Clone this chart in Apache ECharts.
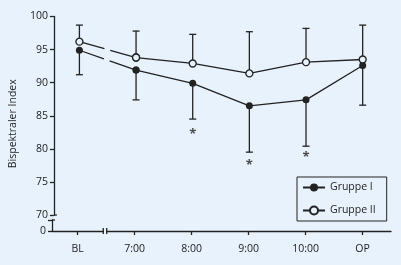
<!DOCTYPE html>
<html>
<head>
<meta charset="utf-8">
<script src="https://cdn.jsdelivr.net/npm/echarts@6/dist/echarts.min.js"></script>
<style>
  html, body { margin: 0; padding: 0; background: #e8f2fc; }
  #chart { width: 401px; height: 265px; }
</style>
</head>
<body>
<div id="chart"></div>
<script>
// Zeitpunkte
const categories = ['BL', '7:00', '8:00', '9:00', '10:00', 'OP'];
// Gruppe I: Mittelwert und untere Fehlerbalken
const gruppe1 = [94.9, 91.9, 89.9, 86.5, 87.4, 92.6];
const gruppe1Lower = [91.2, 87.4, 84.5, 79.5, 80.4, 86.6];
// Gruppe II: Mittelwert und obere Fehlerbalken
const gruppe2 = [96.2, 93.8, 92.9, 91.4, 93.1, 93.5];
const gruppe2Upper = [98.7, 97.8, 97.3, 97.7, 98.2, 98.7];
// signifikante Zeitpunkte (*)
const sigIndex = [2, 3, 4];
const sigValue = [82.6, 77.9, 79.2];
// x-Achse mit Bruch zwischen BL und 7:00
const xMin = -0.45, xMax = 5.5;
const xBreak = [0.45, 0.51];

const ink = '#222';
const bg = '#e8f2fc';
const font = 'Open Sans';
const xIdx = categories.map((c, i) => i);

const chart = echarts.init(document.getElementById('chart'));

function errorBar(params, api) {
  const p0 = api.coord([api.value(0), api.value(1)]);
  const p1 = api.coord([api.value(0), api.value(2)]);
  const w = 3.5;
  return {
    type: 'group',
    children: [
      { type: 'line', shape: { x1: p0[0], y1: p0[1], x2: p1[0], y2: p1[1] }, style: { stroke: ink, lineWidth: 1.3 } },
      { type: 'line', shape: { x1: p1[0] - w, y1: p1[1], x2: p1[0] + w, y2: p1[1] }, style: { stroke: ink, lineWidth: 1.3 } }
    ]
  };
}

const axisStyle = { color: ink, width: 1.3 };
const labelStyle = { fontFamily: font, fontSize: 10.5, color: ink };

const option = {
  backgroundColor: bg,
  animation: false,
  textStyle: { fontFamily: font, color: ink },
  grid: [
    { left: 52, right: 10, top: 16.5, bottom: 50 },   // 70..100
    { left: 52, right: 10, top: 220, bottom: 34 }     // unterhalb des Bruchs bis 0
  ],
  legend: {
    data: ['Gruppe I', 'Gruppe II'],
    orient: 'vertical',
    left: 297,
    top: 177,
    itemWidth: 22,
    itemHeight: 10,
    itemGap: 12,
    padding: [5, 11, 5, 5],
    borderColor: ink,
    borderWidth: 1,
    backgroundColor: bg,
    textStyle: Object.assign({ lineHeight: 10 }, labelStyle)
  },
  xAxis: [
    {
      gridIndex: 0, type: 'value', min: xMin, max: xMax, show: false
    },
    {
      gridIndex: 1, type: 'value', min: xMin, max: xMax,
      axisLine: { show: true, onZero: false, lineStyle: axisStyle },
      axisTick: { show: true, customValues: xIdx, length: 4, lineStyle: axisStyle },
      splitLine: { show: false },
      axisLabel: Object.assign({
        customValues: xIdx,
        formatter: v => categories[Math.round(v)],
        margin: 13
      }, labelStyle)
    }
  ],
  yAxis: [
    {
      gridIndex: 0, type: 'value', min: 70, max: 100, interval: 5,
      name: 'Bispektraler Index',
      nameLocation: 'middle',
      nameGap: 24,
      nameTextStyle: Object.assign({ padding: [0, 16, 0, 0] }, labelStyle),
      axisLine: { show: true, onZero: false, lineStyle: axisStyle },
      axisTick: { show: true, length: 4, lineStyle: axisStyle },
      splitLine: { show: false },
      axisLabel: Object.assign({ margin: 6 }, labelStyle)
    },
    {
      gridIndex: 1, type: 'value', min: 0, max: 1, interval: 1,
      axisLine: { show: true, onZero: false, lineStyle: axisStyle },
      axisTick: { show: true, length: 4, lineStyle: axisStyle },
      splitLine: { show: false },
      axisLabel: Object.assign({ margin: 6, formatter: v => (v === 0 ? '0' : '') }, labelStyle)
    }
  ],
  series: [
    {
      type: 'custom', name: 'err1', renderItem: errorBar, z: 1,
      data: xIdx.map(i => [i, gruppe1[i], gruppe1Lower[i]])
    },
    {
      type: 'custom', name: 'err2', renderItem: errorBar, z: 1,
      data: xIdx.map(i => [i, gruppe2[i], gruppe2Upper[i]])
    },
    {
      name: 'Gruppe I gap', type: 'line', z: 2,
      data: [[0, gruppe1[0]], [1, gruppe1[1]]],
      symbol: 'circle', symbolSize: 7,
      itemStyle: { color: ink },
      lineStyle: { color: ink, width: 1.3, type: [26, 6, 100] }
    },
    {
      name: 'Gruppe II gap', type: 'line', z: 2,
      data: [[0, gruppe2[0]], [1, gruppe2[1]]],
      symbol: 'circle', symbolSize: 7,
      itemStyle: { color: bg, borderColor: ink, borderWidth: 1.3 },
      lineStyle: { color: ink, width: 1.3, type: [26, 6, 100] }
    },
    {
      name: 'Gruppe I', type: 'line', z: 3,
      data: xIdx.slice(1).map(i => [i, gruppe1[i]]),
      symbol: 'circle', symbolSize: 7,
      itemStyle: { color: ink },
      lineStyle: { color: ink, width: 1.3 }
    },
    {
      name: 'Gruppe II', type: 'line', z: 3,
      data: xIdx.slice(1).map(i => [i, gruppe2[i]]),
      symbol: 'circle', symbolSize: 7,
      itemStyle: { color: bg, borderColor: ink, borderWidth: 1.3 },
      lineStyle: { color: ink, width: 1.3 }
    },
    {
      name: 'sig', type: 'scatter', z: 3,
      data: sigIndex.map((i, k) => [i, sigValue[k]]),
      symbolSize: 1,
      itemStyle: { color: 'rgba(0,0,0,0)' },
      label: Object.assign({
        show: true, position: 'inside', formatter: '*',
        fontSize: 13, fontWeight: 'bold', offset: [0, 3]
      }, { fontFamily: font, color: ink })
    }
  ]
};

chart.setOption(option);

// Endstriche an den Bruchstellen, Lücke in der x-Achse
const px = (g, x, y) => {
  const p = chart.convertToPixel({ gridIndex: g }, [x, y]);
  return [p[0], p[1]];
};
const seg = (x1, y1, x2, y2) => ({
  type: 'line', z: 100, silent: true,
  shape: { x1: x1, y1: y1, x2: x2, y2: y2 },
  style: { stroke: ink, lineWidth: 1.3 }
});
const y70 = px(0, xMin, 70);
const yb = px(1, xMin, 1);
const xb1 = px(1, xBreak[0], 0);
const xb2 = px(1, xBreak[1], 0);
chart.setOption({
  graphic: [
    {
      type: 'rect', z: 99, silent: true,
      shape: { x: xb1[0] + 0.7, y: xb1[1] - 3, width: xb2[0] - xb1[0] - 1.4, height: 6 },
      style: { fill: bg }
    },
    seg(y70[0], y70[1], y70[0] + 3, y70[1]),
    seg(yb[0], yb[1], yb[0] + 3, yb[1]),
    seg(xb1[0], xb1[1] - 3, xb1[0], xb1[1] + 3),
    seg(xb2[0], xb2[1] - 3, xb2[0], xb2[1] + 3)
  ]
});
</script>
</body>
</html>
